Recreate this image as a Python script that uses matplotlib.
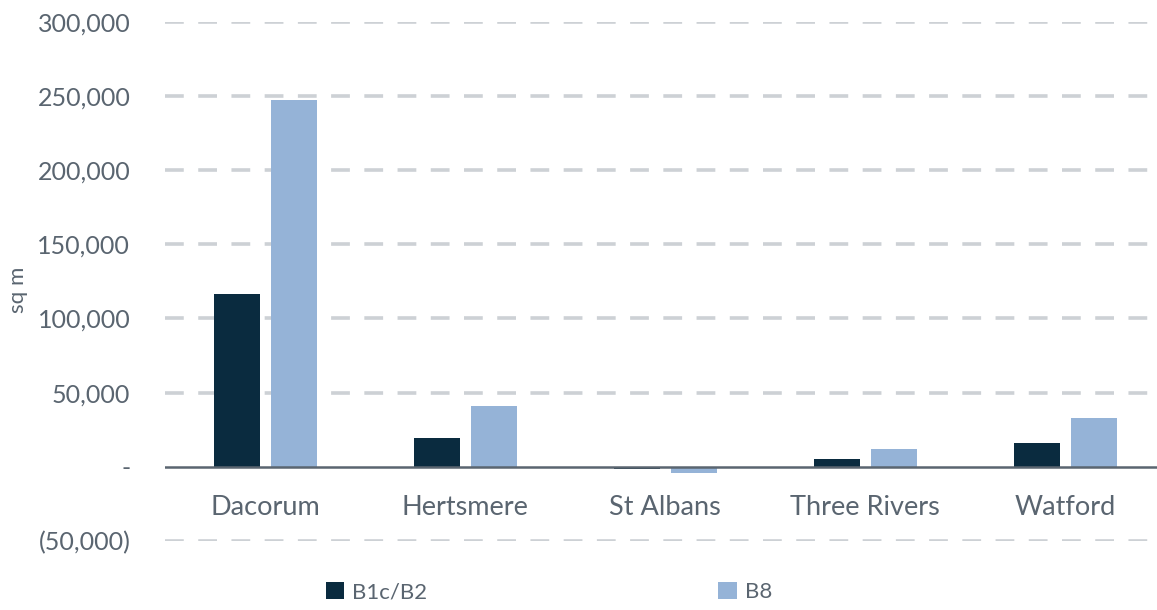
import matplotlib
matplotlib.use("Agg")
import matplotlib.pyplot as plt
import numpy as np
from matplotlib.ticker import FuncFormatter

# data (sq m)
districts = ['Dacorum', 'Hertsmere', 'St Albans', 'Three Rivers', 'Watford']
b1c_b2 = [116500, 19600, -1800, 5400, 16000]
b8 = [247300, 41000, -4000, 11700, 32900]
series_names = ['B1c/B2', 'B8']

dark = '#0a2b3f'
light = '#95b3d7'
text_col = '#5a6570'
grid_col = '#cdd1d5'

plt.rcParams['font.family'] = ['Lato', 'DejaVu Sans']

fig = plt.figure(figsize=(11.57, 6.10), dpi=100)
ax = fig.add_axes([165 / 1157, 69 / 610, 1000 / 1157, 519.3 / 610])

x = np.arange(len(districts))
w = 0.23
off = 0.1425
ax.bar(x - off, b1c_b2, width=w, color=dark, label=series_names[0], zorder=3)
ax.bar(x + off, b8, width=w, color=light, label=series_names[1], zorder=3)

ax.set_xlim(-0.5, len(districts) - 0.5)
ax.set_ylim(-50000, 300000)
yt = np.arange(-50000, 300001, 50000)
ax.set_yticks(yt)


def fmt(v, pos):
    if v == 0:
        return '-'
    if v < 0:
        return '({:,.0f})'.format(-v)
    return '{:,.0f}'.format(v)


ax.yaxis.set_major_formatter(FuncFormatter(fmt))

# dashed gridlines, solid zero line
for v in yt:
    if v == 0:
        continue
    ax.axhline(v, color=grid_col, lw=2.6, ls=(0, (5.2, 4.0)), zorder=1)
ax.axhline(0, color='#5a6570', lw=1.8, zorder=4)

for s in ax.spines.values():
    s.set_visible(False)
ax.tick_params(axis='both', length=0, colors=text_col)
ax.tick_params(axis='y', pad=25, labelsize=18)
ax.set_xticks(x)
ax.set_xticklabels(districts)
ax.tick_params(axis='x', pad=0, labelsize=19.5)
for lbl in ax.get_xticklabels():
    lbl.set_y(0.089)  # category labels sit just under the zero line
ax.set_ylabel('sq m', color=text_col, fontsize=16)
ax.yaxis.set_label_coords(-137 / 1000, 0.483)

leg = fig.legend(loc='center', bbox_to_anchor=(549 / 1157, 1 - 592 / 610), ncol=2,
                 frameon=False, fontsize=16, handlelength=0.85, handleheight=0.85,
                 handletextpad=0.35, columnspacing=13.1, borderaxespad=0)
for t in leg.get_texts():
    t.set_color(text_col)

fig.savefig('out.png', dpi=100)
